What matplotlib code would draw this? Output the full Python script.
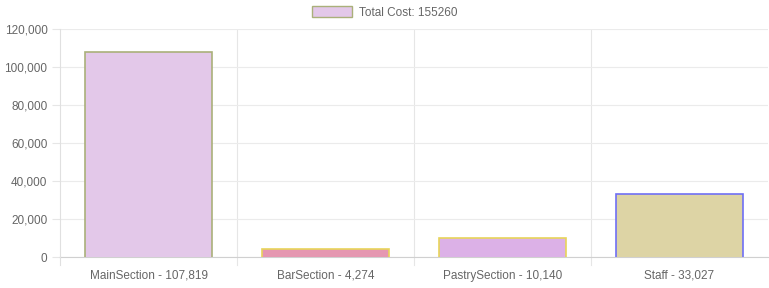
import matplotlib
matplotlib.use("Agg")
import matplotlib.pyplot as plt
from matplotlib.patches import Patch

plt.rcParams["font.family"] = ["Liberation Sans", "DejaVu Sans"]

# datos
categorias = ["MainSection", "BarSection", "PastrySection", "Staff"]
costes = [107819, 4274, 10140, 33027]
relleno = ["#e3c8e9", "#e597b1", "#dcb1e7", "#ddd4a5"]
borde = ["#aab07a", "#e8d45a", "#e8d45a", "#6f6ff5"]
etiquetas = [f"{c} - {v:,}" for c, v in zip(categorias, costes)]
yticks = [0, 20000, 40000, 60000, 80000, 100000, 120000]

W, H = 769, 288
fig = plt.figure(figsize=(W / 100, H / 100), dpi=100)
ax = fig.add_axes([60 / W, 1 - 257 / H, 708 / W, 228 / H])

x = range(len(categorias))
barras = ax.bar(x, costes, width=0.72, color=relleno, edgecolor="none", zorder=3)
# borde sin la base (como Chart.js)
for b, c in zip(barras, borde):
    x0, y0 = b.get_x(), b.get_y()
    x1, y1 = x0 + b.get_width(), y0 + b.get_height()
    ax.plot([x0, x0, x1, x1], [y0, y1, y1, y0], color=c, lw=1.2, zorder=4,
            solid_joinstyle="miter")

ax.set_xlim(-0.5, len(categorias) - 0.5)
ax.set_ylim(0, 120000)
ax.set_yticks(yticks)
ax.set_yticklabels([f"{t:,}" for t in yticks], fontsize=8.5, color="#666666")
ax.set_xticks(list(x))
ax.set_xticklabels(etiquetas, fontsize=8.5, color="#666666")
ax.tick_params(axis="x", length=0, pad=9)
ax.tick_params(axis="y", length=6, color="#e6e6e6", pad=3)

# rejilla vertical entre categorías
for xb in [0.5, 1.5, 2.5]:
    ax.axvline(xb, color="#e6e6e6", lw=0.8, zorder=0)
    ax.plot([xb, xb], [0, -0.035], transform=ax.get_xaxis_transform(),
            color="#e6e6e6", lw=0.8, clip_on=False)
ax.grid(axis="y", color="#ebebeb", lw=0.8, zorder=0)
for s in ["top", "right"]:
    ax.spines[s].set_visible(False)
ax.spines["left"].set_color("#e0e0e0")
ax.spines["bottom"].set_color("#d0d0d0")
ax.spines["bottom"].set_zorder(2)
ax.plot([-0.5, -0.5], [0, -0.035], transform=ax.get_xaxis_transform(),
        color="#e0e0e0", lw=0.8, clip_on=False)

ley = [Patch(facecolor=relleno[0], edgecolor=borde[0], label=f"Total Cost: {sum(costes)}")]
fig.legend(handles=ley, loc="upper center", bbox_to_anchor=(0.5, 1.0), frameon=False,
           fontsize=8.5, handlelength=3.4, handleheight=1.1, labelcolor="#666666",
           borderaxespad=0.1, handletextpad=0.6)

fig.savefig("out.png", dpi=100)
